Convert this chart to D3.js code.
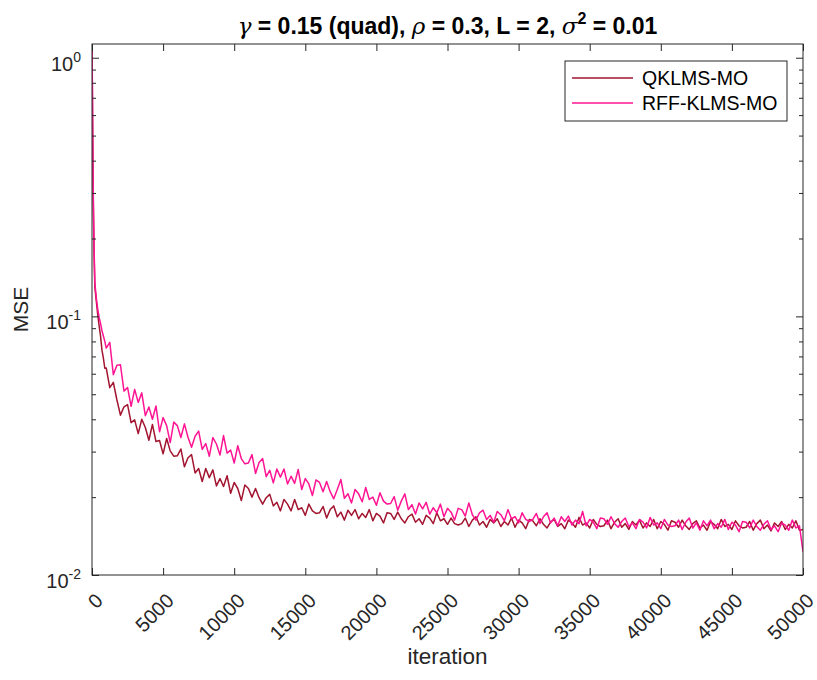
<!DOCTYPE html>
<html>
<head>
<meta charset="utf-8">
<style>body{margin:0;background:#fff}</style>
</head>
<body>
<svg width="817" height="680" font-family="'Liberation Sans', Arial, sans-serif"></svg>
<script src="https://d3js.org/d3.v7.min.js"></script>
<script>

// iterations 0..900 (steep start)
var earlyIter = [0, 25, 50, 75, 100, 150, 200, 300, 400, 500, 600, 700, 800, 900];
var qklmsEarly = [1.12, 0.75, 0.48, 0.33, 0.25, 0.17, 0.13, 0.115, 0.102, 0.092, 0.084, 0.074, 0.069, 0.063];
var rffEarly = [1.14, 0.80, 0.52, 0.36, 0.27, 0.18, 0.135, 0.118, 0.107, 0.099, 0.094, 0.088, 0.084, 0.080];

// iterations 1000..50000, every 250 (10 per row)
var mainIter = d3.range(1000, 50001, 250);
var qklmsMain = [
  0.0632, 0.0530, 0.0556, 0.0476, 0.0415, 0.0447, 0.0456, 0.0388, 0.0398, 0.0352,
  0.0400, 0.0372, 0.0332, 0.0382, 0.0328, 0.0331, 0.0294, 0.0337, 0.0302, 0.0288,
  0.0289, 0.0307, 0.0262, 0.0284, 0.0292, 0.0248, 0.0258, 0.0230, 0.0258, 0.0238,
  0.0255, 0.0221, 0.0236, 0.0220, 0.0242, 0.0207, 0.0228, 0.0216, 0.0194, 0.0223,
  0.0216, 0.0200, 0.0216, 0.0199, 0.0188, 0.0199, 0.0205, 0.0185, 0.0191, 0.0177,
  0.0196, 0.0188, 0.0177, 0.0196, 0.0179, 0.0182, 0.0170, 0.0188, 0.0177, 0.0173,
  0.0174, 0.0184, 0.0166, 0.0179, 0.0185, 0.0168, 0.0175, 0.0163, 0.0178, 0.0170,
  0.0179, 0.0165, 0.0173, 0.0167, 0.0179, 0.0162, 0.0173, 0.0169, 0.0159, 0.0174,
  0.0173, 0.0164, 0.0175, 0.0165, 0.0159, 0.0168, 0.0172, 0.0160, 0.0165, 0.0157,
  0.0170, 0.0166, 0.0158, 0.0174, 0.0162, 0.0165, 0.0157, 0.0166, 0.0158, 0.0156,
  0.0158, 0.0166, 0.0154, 0.0163, 0.0168, 0.0156, 0.0161, 0.0153, 0.0164, 0.0159,
  0.0165, 0.0154, 0.0161, 0.0156, 0.0166, 0.0153, 0.0163, 0.0159, 0.0151, 0.0164,
  0.0162, 0.0155, 0.0165, 0.0157, 0.0152, 0.0160, 0.0164, 0.0154, 0.0158, 0.0151,
  0.0163, 0.0159, 0.0153, 0.0167, 0.0156, 0.0159, 0.0152, 0.0164, 0.0157, 0.0154,
  0.0155, 0.0163, 0.0151, 0.0160, 0.0165, 0.0153, 0.0158, 0.0150, 0.0161, 0.0156,
  0.0163, 0.0152, 0.0159, 0.0154, 0.0164, 0.0151, 0.0161, 0.0157, 0.0149, 0.0162,
  0.0160, 0.0153, 0.0163, 0.0155, 0.0150, 0.0158, 0.0162, 0.0152, 0.0156, 0.0149,
  0.0161, 0.0157, 0.0151, 0.0164, 0.0154, 0.0157, 0.0150, 0.0162, 0.0155, 0.0152,
  0.0153, 0.0161, 0.0149, 0.0158, 0.0163, 0.0151, 0.0156, 0.0148, 0.0159, 0.0154,
  0.0161, 0.0150, 0.0157, 0.0152, 0.0162, 0.0149, 0.0150
];
var rffMain = [
  0.0754, 0.0794, 0.0595, 0.0647, 0.0650, 0.0514, 0.0531, 0.0449, 0.0522, 0.0465,
  0.0506, 0.0413, 0.0446, 0.0400, 0.0450, 0.0358, 0.0406, 0.0378, 0.0325, 0.0390,
  0.0378, 0.0340, 0.0384, 0.0341, 0.0312, 0.0344, 0.0360, 0.0306, 0.0322, 0.0288,
  0.0340, 0.0321, 0.0291, 0.0346, 0.0296, 0.0304, 0.0271, 0.0316, 0.0282, 0.0269,
  0.0271, 0.0292, 0.0247, 0.0272, 0.0282, 0.0240, 0.0254, 0.0227, 0.0257, 0.0239,
  0.0257, 0.0225, 0.0241, 0.0226, 0.0256, 0.0214, 0.0236, 0.0225, 0.0203, 0.0233,
  0.0228, 0.0210, 0.0230, 0.0210, 0.0197, 0.0214, 0.0234, 0.0198, 0.0206, 0.0190,
  0.0214, 0.0206, 0.0192, 0.0218, 0.0196, 0.0200, 0.0186, 0.0208, 0.0193, 0.0188,
  0.0189, 0.0201, 0.0178, 0.0193, 0.0206, 0.0179, 0.0187, 0.0172, 0.0190, 0.0180,
  0.0191, 0.0172, 0.0182, 0.0174, 0.0188, 0.0168, 0.0181, 0.0175, 0.0163, 0.0181,
  0.0179, 0.0169, 0.0190, 0.0171, 0.0163, 0.0174, 0.0178, 0.0164, 0.0170, 0.0160,
  0.0176, 0.0171, 0.0162, 0.0179, 0.0165, 0.0168, 0.0159, 0.0174, 0.0164, 0.0161,
  0.0164, 0.0173, 0.0158, 0.0168, 0.0174, 0.0159, 0.0166, 0.0155, 0.0168, 0.0161,
  0.0169, 0.0156, 0.0163, 0.0158, 0.0176, 0.0155, 0.0164, 0.0160, 0.0151, 0.0166,
  0.0165, 0.0157, 0.0168, 0.0158, 0.0153, 0.0161, 0.0166, 0.0154, 0.0159, 0.0151,
  0.0164, 0.0160, 0.0152, 0.0167, 0.0156, 0.0159, 0.0151, 0.0164, 0.0156, 0.0154,
  0.0155, 0.0163, 0.0150, 0.0160, 0.0166, 0.0152, 0.0159, 0.0149, 0.0162, 0.0155,
  0.0163, 0.0151, 0.0158, 0.0153, 0.0164, 0.0150, 0.0160, 0.0156, 0.0147, 0.0161,
  0.0160, 0.0152, 0.0163, 0.0154, 0.0149, 0.0157, 0.0162, 0.0150, 0.0155, 0.0147,
  0.0159, 0.0156, 0.0149, 0.0163, 0.0152, 0.0155, 0.0123
];

var xTicks = d3.range(0, 50001, 5000);
var yMajor = [0.01, 0.1, 1];
var yMinor = [0.02, 0.03, 0.04, 0.05, 0.06, 0.07, 0.08, 0.09, 0.2, 0.3, 0.4, 0.5, 0.6, 0.7, 0.8, 0.9];
var yExp = ["-2", "-1", "0"];

var series = [
  {name: "QKLMS-MO", color: "#a2142f", iter: earlyIter.concat(mainIter), mse: qklmsEarly.concat(qklmsMain)},
  {name: "RFF-KLMS-MO", color: "#ff1493", iter: earlyIter.concat(mainIter), mse: rffEarly.concat(rffMain)}
];

var svg = d3.select("svg");
var pL = 92, pR = 803, pT = 44, pB = 575;
var axisColor = "#262626";

var x = d3.scaleLinear().domain([0, 50000]).range([pL, pR]);
var y = d3.scaleLog().domain([0.01, 1.13]).range([pB, pT]);

svg.append("clipPath").attr("id", "clip")
  .append("rect").attr("x", pL).attr("y", pT).attr("width", pR - pL).attr("height", pB - pT);

var line = d3.line()
  .x(function(d) { return x(d[0]); })
  .y(function(d) { return y(d[1]); });

var plot = svg.append("g").attr("clip-path", "url(#clip)");
series.forEach(function(s) {
  var pts = s.iter.map(function(it, i) { return [it, s.mse[i]]; })
    .filter(function(d) { return d[1] != null; });
  plot.append("path")
    .attr("d", line(pts))
    .attr("fill", "none")
    .attr("stroke", s.color)
    .attr("stroke-width", 1.5)
    .attr("stroke-linejoin", "round");
});

// ticks (inside, on all four sides)
function styleAxis(g) {
  g.select(".domain").remove();
  g.selectAll("line").attr("stroke", axisColor).attr("stroke-width", 1);
  g.selectAll("text").remove();
}
svg.append("g").attr("transform", "translate(0," + pB + ")")
  .call(d3.axisBottom(x).tickValues(xTicks).tickSize(-7)).call(styleAxis);
svg.append("g").attr("transform", "translate(0," + pT + ")")
  .call(d3.axisTop(x).tickValues(xTicks).tickSize(-7)).call(styleAxis);
svg.append("g").attr("transform", "translate(" + pL + ",0)")
  .call(d3.axisLeft(y).tickValues(yMajor).tickSize(-7)).call(styleAxis);
svg.append("g").attr("transform", "translate(" + pR + ",0)")
  .call(d3.axisRight(y).tickValues(yMajor).tickSize(-7)).call(styleAxis);
svg.append("g").attr("transform", "translate(" + pL + ",0)")
  .call(d3.axisLeft(y).tickValues(yMinor).tickSize(-4)).call(styleAxis);
svg.append("g").attr("transform", "translate(" + pR + ",0)")
  .call(d3.axisRight(y).tickValues(yMinor).tickSize(-4)).call(styleAxis);

svg.append("rect")
  .attr("x", pL).attr("y", pT).attr("width", pR - pL).attr("height", pB - pT)
  .attr("fill", "none").attr("stroke", axisColor).attr("stroke-width", 1);

// x tick labels, rotated
svg.append("g").selectAll("text").data(xTicks).enter().append("text")
  .attr("transform", function(d) { return "translate(" + (x(d) + 12) + ",602) rotate(-45)"; })
  .attr("text-anchor", "end")
  .attr("font-size", 20)
  .attr("fill", axisColor)
  .text(function(d) { return d; });

// y tick labels 10^n
var yl = svg.append("g").selectAll("text").data(yMajor).enter().append("text")
  .attr("x", 81)
  .attr("y", function(d) { return y(d) + 13; })
  .attr("text-anchor", "end")
  .attr("font-size", 20)
  .attr("fill", axisColor);
yl.append("tspan").text("10");
yl.append("tspan").attr("dy", -9).attr("font-size", 14).text(function(d, i) { return yExp[i]; });

// axis titles
svg.append("text")
  .attr("x", (pL + pR) / 2).attr("y", 664)
  .attr("text-anchor", "middle").attr("font-size", 22.5).attr("fill", axisColor)
  .text("iteration");
svg.append("text")
  .attr("transform", "translate(28," + ((pT + pB) / 2) + ") rotate(-90)")
  .attr("text-anchor", "middle").attr("font-size", 21).attr("fill", axisColor)
  .text("MSE");

// title
var t = svg.append("text")
  .attr("x", (pL + pR) / 2).attr("y", 34)
  .attr("text-anchor", "middle").attr("font-size", 23).attr("font-weight", "bold").attr("fill", "#000");
t.append("tspan").attr("font-style", "italic").attr("font-weight", "normal").attr("font-family", "'DejaVu Serif', serif").text("γ");
t.append("tspan").text(" = 0.15 (quad), ");
t.append("tspan").attr("font-style", "italic").attr("font-weight", "normal").attr("font-family", "'DejaVu Serif', serif").text("ρ");
t.append("tspan").text(" = 0.3, L = 2, ");
t.append("tspan").attr("font-style", "italic").attr("font-weight", "normal").attr("font-family", "'DejaVu Serif', serif").text("σ");
t.append("tspan").attr("dy", -10).attr("font-size", 16).text("2");
t.append("tspan").attr("dy", 10).text(" = 0.01");

// legend
var lg = svg.append("g");
lg.append("rect").attr("x", 565).attr("y", 61).attr("width", 222).attr("height", 60)
  .attr("fill", "#fff").attr("stroke", axisColor).attr("stroke-width", 1);
series.forEach(function(s, i) {
  var ly = 78 + i * 25;
  lg.append("line").attr("x1", 572).attr("x2", 633).attr("y1", ly).attr("y2", ly)
    .attr("stroke", s.color).attr("stroke-width", 1.3);
  lg.append("text").attr("x", 642).attr("y", ly + 7).attr("font-size", 19.5).attr("fill", "#000")
    .text(s.name);
});

</script>
</body>
</html>
